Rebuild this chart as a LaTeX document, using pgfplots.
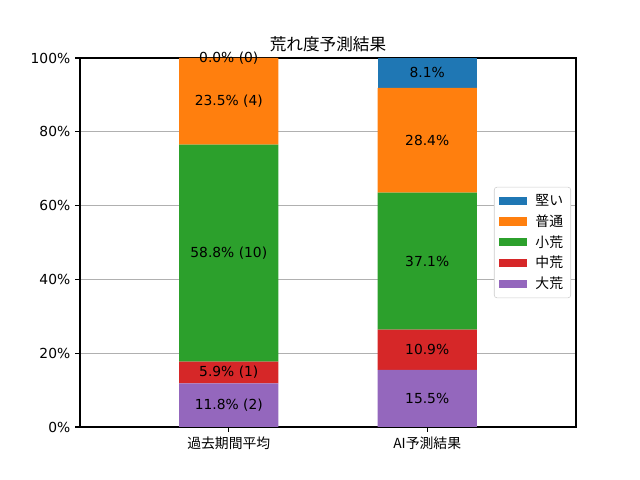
\documentclass[border=0pt]{standalone}
\usepackage{fontspec}
\setmainfont{DejaVu Sans}
\newfontfamily\cjk{Noto Sans CJK JP}
\usepackage{pgfplots}
\pgfplotsset{compat=1.18}
\definecolor{c1}{HTML}{1F77B4}
\definecolor{c2}{HTML}{FF7F0E}
\definecolor{c3}{HTML}{2CA02C}
\definecolor{c4}{HTML}{D62728}
\definecolor{c5}{HTML}{9467BD}
\pgfplotstableread{
x y lab
0 5.9 {11.8\% (2)}
0 14.75 {5.9\% (1)}
0 47.1 {58.8\% (10)}
0 88.25 {23.5\% (4)}
0 100 {0.0\% (0)}
1 7.75 {15.5\%}
1 20.95 {10.9\%}
1 44.95 {37.1\%}
1 77.7 {28.4\%}
1 95.95 {8.1\%}
}\labels
\begin{document}
\begin{tikzpicture}
\path[use as bounding box] (0bp,0bp) rectangle (460.8bp,345.6bp);
\begin{axis}[
  at={(57.6bp,38.16bp)}, anchor=south west,
  scale only axis, width=357.12bp, height=265.68bp,
  ybar stacked, bar width=0.5,
  xmin=-0.75, xmax=1.75, ymin=0, ymax=100,
  xtick={0,1}, xticklabels={{\cjk 過去期間平均},{\cjk AI予測結果}},
  ytick={0,20,40,60,80,100},
  yticklabel={\pgfmathprintnumber{\tick}\%},
  /pgf/number format/assume math mode=true,
  tick label style={font=\fontsize{10}{12}\selectfont},
  tick align=outside, tick pos=left,
  major tick length=3.5bp,
  every tick/.style={black, line width=0.8bp},
  axis line style={line width=0.8bp},
  ymajorgrids, grid style={color=black!31, line width=0.8bp},
  title={\cjk\fontsize{12}{14}\selectfont 荒れ度予測結果},
  title style={yshift=-5bp},
]
\addplot[fill=c5, draw=none] coordinates {(0,11.8) (1,15.5)};
\addplot[fill=c4, draw=none] coordinates {(0,5.9) (1,10.9)};
\addplot[fill=c3, draw=none] coordinates {(0,58.8) (1,37.1)};
\addplot[fill=c2, draw=none] coordinates {(0,23.5) (1,28.4)};
\addplot[fill=c1, draw=none] coordinates {(0,0.0) (1,8.1)};
\end{axis}
\begin{axis}[
  at={(57.6bp,38.16bp)}, anchor=south west,
  scale only axis, width=357.12bp, height=265.68bp,
  xmin=-0.75, xmax=1.75, ymin=0, ymax=100,
  hide axis, clip=false,
  legend style={at={(0.99,0.5)}, anchor=east, font=\fontsize{10}{12}\selectfont,
    draw=black!20, rounded corners=2bp, row sep=1.2bp, inner xsep=3.5bp, inner ysep=3bp},
  legend cell align=left,
  legend image code/.code={\draw[#1, draw=none, sharp corners] (0bp,-3bp) rectangle (20bp,3bp);
    \path (24bp,0bp);},
]
\addlegendimage{fill=c1}\addlegendentry{\cjk 堅い}
\addlegendimage{fill=c2}\addlegendentry{\cjk 普通}
\addlegendimage{fill=c3}\addlegendentry{\cjk 小荒}
\addlegendimage{fill=c4}\addlegendentry{\cjk 中荒}
\addlegendimage{fill=c5}\addlegendentry{\cjk 大荒}
\addplot[draw=none, mark=none, nodes near coords, point meta=explicit symbolic,
  every node near coord/.style={anchor=center, font=\fontsize{10}{12}\selectfont, black}]
  table[x=x, y=y, meta=lab] {\labels};
\end{axis}
\end{tikzpicture}
\end{document}
